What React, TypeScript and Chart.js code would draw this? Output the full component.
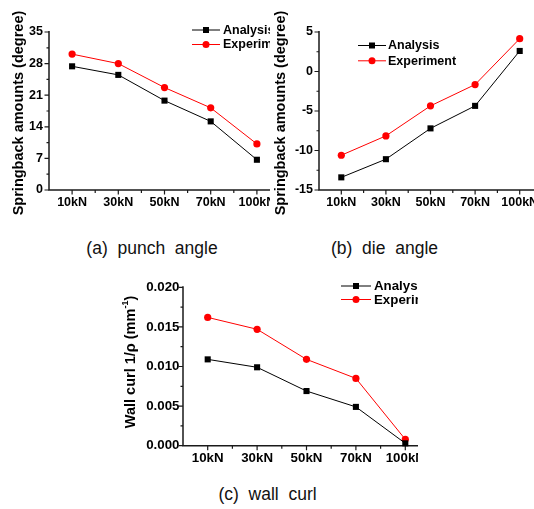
import React, { useEffect, useRef } from 'react';
import { Chart, registerables } from 'chart.js';
Chart.register(...registerables);

const forceLabels = ['10kN', '30kN', '50kN', '70kN', '100kN'];
const seriesNames = ['Analysis', 'Experiment'];
const punchAnalysis = [27.4, 25.5, 19.8, 15.2, 6.7];
const punchExperiment = [30.1, 28.0, 22.7, 18.2, 10.2];
const dieAnalysis = [-13.4, -11.1, -7.2, -4.35, 2.6];
const dieExperiment = [-10.6, -8.15, -4.35, -1.65, 4.15];
const curlAnalysis = [0.0109, 0.0099, 0.0069, 0.0049, 0.0003];
const curlExperiment = [0.0162, 0.0147, 0.0109, 0.0085, 0.0008];
const punchTicks = [0, 7, 14, 21, 28, 35];
const dieTicks = [-15, -10, -5, 0, 5];
const curlTicks = [0, 0.005, 0.01, 0.015, 0.02];
const captions = ['(a)  punch  angle', '(b)  die  angle', '(c)  wall  curl'];

const FONT = "'Liberation Sans', Arial, sans-serif";

type Seg = { text: string; sup?: boolean };
interface PanelProps {
  left: number; top: number; clipW: number; clipH: number; canvasW: number;
  area: { left: number; top: number; right: number; bottom: number };
  a: number[]; e: number[]; yTicks: number[]; decimals: number; tickPad: number;
  fontSize: number;
  title: Seg[]; titleX: number; titleY: number;
  legend: { x1: number; x2: number; tx: number; y0: number; dy: number };
}

function Panel(p: PanelProps) {
  const ref = useRef<HTMLCanvasElement>(null);
  useEffect(() => {
    const canvas = ref.current!;
    const axisPlugin = {
      id: 'originAxes',
      beforeDatasetsDraw(chart: any) {
        const { ctx, chartArea } = chart;
        const { left, right, top, bottom } = chartArea;
        const xs = chart.scales.x, ys = chart.scales.y;
        ctx.save();
        ctx.strokeStyle = '#1a1a1a';
        ctx.lineWidth = 1.5;
        ctx.beginPath();
        ctx.moveTo(left, top - 1);
        ctx.lineTo(left, bottom);
        ctx.lineTo(right, bottom);
        ctx.stroke();
        ctx.lineWidth = 1.2;
        ctx.beginPath();
        p.yTicks.forEach((v, i) => {
          const py = ys.getPixelForValue(v);
          ctx.moveTo(left - 4.5, py); ctx.lineTo(left, py);
          if (i < p.yTicks.length - 1) {
            const pm = ys.getPixelForValue((v + p.yTicks[i + 1]) / 2);
            ctx.moveTo(left - 2.5, pm); ctx.lineTo(left, pm);
          }
        });
        for (let i = 0; i < forceLabels.length; i++) {
          const px = xs.getPixelForValue(i);
          ctx.moveTo(px, bottom); ctx.lineTo(px, bottom + 4.5);
          const pm = xs.getPixelForValue(i + 0.5);
          ctx.moveTo(pm, bottom); ctx.lineTo(pm, bottom + 3);
        }
        ctx.stroke();
        ctx.restore();
      },
    };
    const legendPlugin = {
      id: 'originLegend',
      afterDraw(chart: any) {
        const { ctx } = chart;
        const L = p.legend;
        ctx.save();
        chart.data.datasets.forEach((ds: any, i: number) => {
          const y = L.y0 + i * L.dy;
          ctx.strokeStyle = ds.borderColor;
          ctx.fillStyle = ds.borderColor;
          ctx.lineWidth = 1;
          ctx.beginPath();
          ctx.moveTo(L.x1, y); ctx.lineTo(L.x2, y);
          ctx.stroke();
          const mx = (L.x1 + L.x2) / 2;
          if (ds.pointStyle === 'rect') {
            ctx.fillRect(mx - 3, y - 3, 6, 6);
          } else {
            ctx.beginPath(); ctx.arc(mx, y, 3.5, 0, Math.PI * 2); ctx.fill();
          }
          ctx.fillStyle = '#000';
          ctx.font = `bold ${p.fontSize}px ${FONT}`;
          ctx.textBaseline = 'middle';
          ctx.textAlign = 'left';
          ctx.fillText(ds.label, L.tx, y + 0.5);
        });
        ctx.restore();
      },
    };
    const titlePlugin = {
      id: 'yTitle',
      afterDraw(chart: any) {
        const { ctx } = chart;
        ctx.save();
        ctx.translate(p.titleX, p.titleY);
        ctx.rotate(-Math.PI / 2);
        ctx.fillStyle = '#000';
        ctx.textBaseline = 'middle';
        ctx.textAlign = 'left';
        const mainF = `bold 14.5px ${FONT}`;
        const supF = `bold 9px ${FONT}`;
        let total = 0;
        p.title.forEach((s) => { ctx.font = s.sup ? supF : mainF; total += ctx.measureText(s.text).width; });
        let x = -total / 2;
        p.title.forEach((s) => {
          ctx.font = s.sup ? supF : mainF;
          ctx.fillText(s.text, x, s.sup ? -5 : 0);
          x += ctx.measureText(s.text).width;
        });
        ctx.restore();
      },
    };
    const tickFont = { family: FONT, size: p.fontSize, weight: 'bold' as const };
    const chart = new Chart(canvas, {
      type: 'line',
      data: {
        labels: forceLabels,
        datasets: [
          { label: seriesNames[0], data: p.a, borderColor: '#000', backgroundColor: '#000', pointStyle: 'rect', pointRadius: 4.3, pointBorderWidth: 0, borderWidth: 1, tension: 0, clip: false } as any,
          { label: seriesNames[1], data: p.e, borderColor: '#ff0000', backgroundColor: '#ff0000', pointStyle: 'circle', pointRadius: 3.6, pointBorderWidth: 0, borderWidth: 1, tension: 0, clip: false } as any,
        ],
      },
      options: {
        responsive: false,
        animation: false,
        devicePixelRatio: 1,
        events: [],
        layout: { padding: { left: 0, top: p.area.top, right: p.canvasW - p.area.right, bottom: 0 } },
        plugins: { legend: { display: false }, tooltip: { enabled: false } },
        scales: {
          x: {
            type: 'category', offset: true,
            grid: { display: false, drawTicks: false, tickLength: 0 }, border: { display: false },
            ticks: { color: '#000', font: tickFont, padding: 5, maxRotation: 0, autoSkip: false },
            afterFit: (s: any) => { s.height = p.clipH - p.area.bottom; },
          },
          y: {
            min: p.yTicks[0], max: p.yTicks[p.yTicks.length - 1],
            grid: { display: false, drawTicks: false, tickLength: 0 }, border: { display: false },
            ticks: { color: '#000', font: tickFont, padding: p.tickPad, callback: (v: any) => Number(v).toFixed(p.decimals) },
            afterBuildTicks: (s: any) => { s.ticks = p.yTicks.map((v) => ({ value: v })); },
            afterFit: (s: any) => { s.width = p.area.left; },
          },
        },
      } as any,
      plugins: [axisPlugin, legendPlugin, titlePlugin],
    });
    return () => chart.destroy();
  }, []);
  return (
    <div style={{ position: 'absolute', left: p.left, top: p.top, width: p.clipW, height: p.clipH, overflow: 'hidden' }}>
      <canvas ref={ref} width={p.canvasW} height={p.clipH} style={{ display: 'block', width: p.canvasW, height: p.clipH }} />
    </div>
  );
}

const capStyle: React.CSSProperties = {
  position: 'absolute', transform: 'translate(-50%, -50%)', whiteSpace: 'pre',
  fontFamily: FONT, fontSize: 17.5, color: '#111', lineHeight: 1,
};

export default function App() {
  const springTitle: Seg[] = [{ text: 'Springback amounts (degree)' }];
  const curlTitle: Seg[] = [{ text: 'Wall curl 1/\u03C1 (mm' }, { text: '-1', sup: true }, { text: ')' }];
  return (
    <div style={{ position: 'fixed', left: 0, top: 0, width: 534, height: 509, background: '#fff', overflow: 'hidden' }}>
      <Panel left={0} top={0} clipW={270} clipH={220} canvasW={300}
        area={{ left: 49, top: 32, right: 280, bottom: 190 }}
        a={punchAnalysis} e={punchExperiment} yTicks={punchTicks} decimals={0} tickPad={6} fontSize={12.5}
        title={springTitle} titleX={19} titleY={113}
        legend={{ x1: 192, x2: 220, tx: 223, y0: 30, dy: 14.5 }} />
      <Panel left={270} top={0} clipW={264} clipH={220} canvasW={300}
        area={{ left: 49, top: 32, right: 272, bottom: 190 }}
        a={dieAnalysis} e={dieExperiment} yTicks={dieTicks} decimals={0} tickPad={6} fontSize={12.5}
        title={springTitle} titleX={11} titleY={113}
        legend={{ x1: 88, x2: 116, tx: 118, y0: 45.5, dy: 15.3 }} />
      <Panel left={115} top={270} clipW={303} clipH={200} canvasW={330}
        area={{ left: 68, top: 17.3, right: 315, bottom: 175.7 }}
        a={curlAnalysis} e={curlExperiment} yTicks={curlTicks} decimals={3} tickPad={3.5} fontSize={13.3}
        title={curlTitle} titleX={16} titleY={92}
        legend={{ x1: 226, x2: 256, tx: 259, y0: 16, dy: 13.5 }} />
      <div style={{ ...capStyle, left: 152, top: 249 }}>{captions[0]}</div>
      <div style={{ ...capStyle, left: 384.5, top: 249 }}>{captions[1]}</div>
      <div style={{ ...capStyle, left: 267.5, top: 495 }}>{captions[2]}</div>
    </div>
  );
}
